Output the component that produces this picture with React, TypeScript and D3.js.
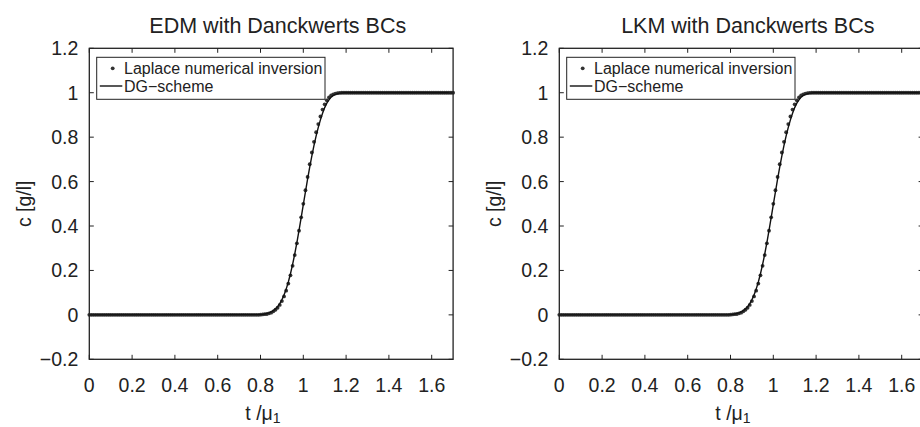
import React from 'react';
import * as d3 from 'd3';

// ---------- data ----------
const tDots = [
  0, 0.01, 0.02, 0.03, 0.04, 0.05, 0.06, 0.07, 0.08, 0.09,
  0.1, 0.11, 0.12, 0.13, 0.14, 0.15, 0.16, 0.17, 0.18, 0.19,
  0.2, 0.21, 0.22, 0.23, 0.24, 0.25, 0.26, 0.27, 0.28, 0.29,
  0.3, 0.31, 0.32, 0.33, 0.34, 0.35, 0.36, 0.37, 0.38, 0.39,
  0.4, 0.41, 0.42, 0.43, 0.44, 0.45, 0.46, 0.47, 0.48, 0.49,
  0.5, 0.51, 0.52, 0.53, 0.54, 0.55, 0.56, 0.57, 0.58, 0.59,
  0.6, 0.61, 0.62, 0.63, 0.64, 0.65, 0.66, 0.67, 0.68, 0.69,
  0.7, 0.71, 0.72, 0.73, 0.74, 0.75, 0.76, 0.77, 0.78, 0.79,
  0.8, 0.81, 0.82, 0.83, 0.84, 0.85, 0.86, 0.87, 0.88, 0.89,
  0.9, 0.91, 0.92, 0.93, 0.94, 0.95, 0.96, 0.97, 0.98, 0.99,
  1.0, 1.01, 1.02, 1.03, 1.04, 1.05, 1.06, 1.07, 1.08, 1.09,
  1.1, 1.11, 1.12, 1.13, 1.14, 1.15, 1.16, 1.17, 1.18, 1.19,
  1.2, 1.21, 1.22, 1.23, 1.24, 1.25, 1.26, 1.27, 1.28, 1.29,
  1.3, 1.31, 1.32, 1.33, 1.34, 1.35, 1.36, 1.37, 1.38, 1.39,
  1.4, 1.41, 1.42, 1.43, 1.44, 1.45, 1.46, 1.47, 1.48, 1.49,
  1.5, 1.51, 1.52, 1.53, 1.54, 1.55, 1.56, 1.57, 1.58, 1.59,
  1.6, 1.61, 1.62, 1.63, 1.64, 1.65, 1.66, 1.67, 1.68, 1.69,
  1.7,
];

const edmLaplace = [
  0, 0, 0, 0, 0, 0, 0, 0, 0, 0,
  0, 0, 0, 0, 0, 0, 0, 0, 0, 0,
  0, 0, 0, 0, 0, 0, 0, 0, 0, 0,
  0, 0, 0, 0, 0, 0, 0, 0, 0, 0,
  0, 0, 0, 0, 0, 0, 0, 0, 0, 0,
  0, 0, 0, 0, 0, 0, 0, 0, 0, 0,
  0, 0, 0, 0, 0, 0, 0, 0, 0, 0,
  0, 0, 0, 0, 0, 0, 0, 0, 0, 0,
  0.001, 0.002, 0.003, 0.004, 0.007, 0.010, 0.016, 0.023, 0.032, 0.045,
  0.062, 0.083, 0.109, 0.141, 0.178, 0.221, 0.269, 0.322, 0.379, 0.439,
  0.500, 0.561, 0.621, 0.678, 0.731, 0.779, 0.822, 0.859, 0.893, 0.924,
  0.948, 0.966, 0.979, 0.988, 0.993, 0.996, 0.998, 0.999, 1, 1,
  1, 1, 1, 1, 1, 1, 1, 1, 1, 1,
  1, 1, 1, 1, 1, 1, 1, 1, 1, 1,
  1, 1, 1, 1, 1, 1, 1, 1, 1, 1,
  1, 1, 1, 1, 1, 1, 1, 1, 1, 1,
  1, 1, 1, 1, 1, 1, 1, 1, 1, 1,
  1,
];
const lkmLaplace = edmLaplace;

const tLine = [
  0, 0.8, 0.81, 0.82, 0.83, 0.84, 0.85, 0.86, 0.87, 0.88, 0.89,
  0.9, 0.91, 0.92, 0.93, 0.94, 0.95, 0.96, 0.97, 0.98, 0.99,
  1.0, 1.01, 1.02, 1.03, 1.04, 1.05, 1.06, 1.07, 1.08, 1.09,
  1.1, 1.11, 1.12, 1.13, 1.14, 1.15, 1.16, 1.17, 1.18, 1.19, 1.2, 1.7,
];
const edmDG = [
  0, 0.001, 0.002, 0.004, 0.006, 0.009, 0.013, 0.019, 0.027, 0.037, 0.051,
  0.068, 0.090, 0.116, 0.148, 0.185, 0.227, 0.274, 0.325, 0.380, 0.438,
  0.496, 0.554, 0.611, 0.665, 0.716, 0.763, 0.806, 0.844, 0.878, 0.908,
  0.933, 0.953, 0.968, 0.980, 0.988, 0.993, 0.996, 0.998, 0.999, 1, 1, 1,
];
const lkmDG = edmDG;

const titles = ['EDM with Danckwerts BCs', 'LKM with Danckwerts BCs'];
const xTicks = [0, 0.2, 0.4, 0.6, 0.8, 1, 1.2, 1.4, 1.6];
const yTicks = [-0.2, 0, 0.2, 0.4, 0.6, 0.8, 1, 1.2];
const legendLabels = ['Laplace numerical inversion', 'DG\u2212scheme'];

// ---------- layout ----------
const W = 920;
const H = 427;
const PLOT_W = 363.8;
const TOP = 48.3;
const BOTTOM = 359.3;
const panelLefts = [89.3, 559.3];
const FONT = "'Liberation Sans', Arial, Helvetica, sans-serif";
const INK = '#222';
const DOT = '#333';

const fmt = (v: number) => {
  const s = d3.format('')(+v.toFixed(1));
  return s.replace('-', '\u2212');
};

function Panel({ x0, title, dots, line }: { x0: number; title: string; dots: number[]; line: number[] }) {
  const x = d3.scaleLinear().domain([0, 1.7]).range([x0, x0 + PLOT_W]);
  const y = d3.scaleLinear().domain([-0.2, 1.2]).range([BOTTOM, TOP]);
  const x1 = x0 + PLOT_W;
  const lineGen = d3
    .line<number>()
    .x((_, i) => x(tLine[i]))
    .y((d) => y(d));
  const tk = 4.5;
  return (
    <g>
      <text x={x0 + 188.5} y={32.5} textAnchor="middle" fontSize={21.5} fill={INK} fontFamily={FONT}>
        {title}
      </text>
      {/* dots */}
      <g fill={DOT}>
        {dots.map((c, i) => (
          <circle key={i} cx={x(tDots[i])} cy={y(c)} r={1.9} />
        ))}
      </g>
      <path d={lineGen(line) || ''} fill="none" stroke="#111" strokeWidth={1.4} />
      {/* box */}
      <rect x={x0} y={TOP} width={PLOT_W} height={BOTTOM - TOP} fill="none" stroke={INK} strokeWidth={1.3} />
      {/* ticks */}
      {xTicks.map((t) => (
        <g key={'x' + t}>
          <line x1={x(t)} x2={x(t)} y1={BOTTOM} y2={BOTTOM - tk} stroke={INK} strokeWidth={1} />
          <line x1={x(t)} x2={x(t)} y1={TOP} y2={TOP + tk} stroke={INK} strokeWidth={1} />
          <text x={x(t)} y={391.7} textAnchor="middle" fontSize={19.5} fill={INK} fontFamily={FONT}>
            {fmt(t)}
          </text>
        </g>
      ))}
      {yTicks.map((v) => (
        <g key={'y' + v}>
          <line x1={x0} x2={x0 + tk} y1={y(v)} y2={y(v)} stroke={INK} strokeWidth={1} />
          <line x1={x1} x2={x1 - tk} y1={y(v)} y2={y(v)} stroke={INK} strokeWidth={1} />
          <text x={x0 - 11} y={y(v) + 7} textAnchor="end" fontSize={19.5} fill={INK} fontFamily={FONT}>
            {fmt(v)}
          </text>
        </g>
      ))}
      {/* axis labels */}
      <text
        transform={`translate(${x0 - 58},${(TOP + BOTTOM) / 2}) rotate(-90)`}
        textAnchor="middle"
        fontSize={19.5}
        fill={INK}
        fontFamily={FONT}
      >
        c [g/l]
      </text>
      <text x={x0 + 156} y={420} fontSize={19.5} fill={INK} fontFamily={FONT}>
        t /μ
        <tspan fontSize={14} dy={2.5}>1</tspan>
      </text>
      {/* legend */}
      <rect x={x0 + 7.4} y={57.3} width={228.3} height={42} fill="#fff" stroke={INK} strokeWidth={1} />
      <circle cx={x0 + 23.4} cy={68.3} r={1.9} fill={DOT} />
      <text x={x0 + 34.7} y={73.6} fontSize={16} fill={INK} fontFamily={FONT}>
        {legendLabels[0]}
      </text>
      <line x1={x0 + 10.5} x2={x0 + 33} y1={86} y2={86} stroke="#111" strokeWidth={1.4} />
      <text x={x0 + 34.7} y={91.8} fontSize={16} fill={INK} fontFamily={FONT}>
        {legendLabels[1]}
      </text>
    </g>
  );
}

export default function App() {
  return (
    <svg
      width={W}
      height={H}
      viewBox={`0 0 ${W} ${H}`}
      style={{ position: 'absolute', left: 0, top: 0, background: '#fff' }}
    >
      <rect width={W} height={H} fill="#fff" />
      <Panel x0={panelLefts[0]} title={titles[0]} dots={edmLaplace} line={edmDG} />
      <Panel x0={panelLefts[1]} title={titles[1]} dots={lkmLaplace} line={lkmDG} />
    </svg>
  );
}
